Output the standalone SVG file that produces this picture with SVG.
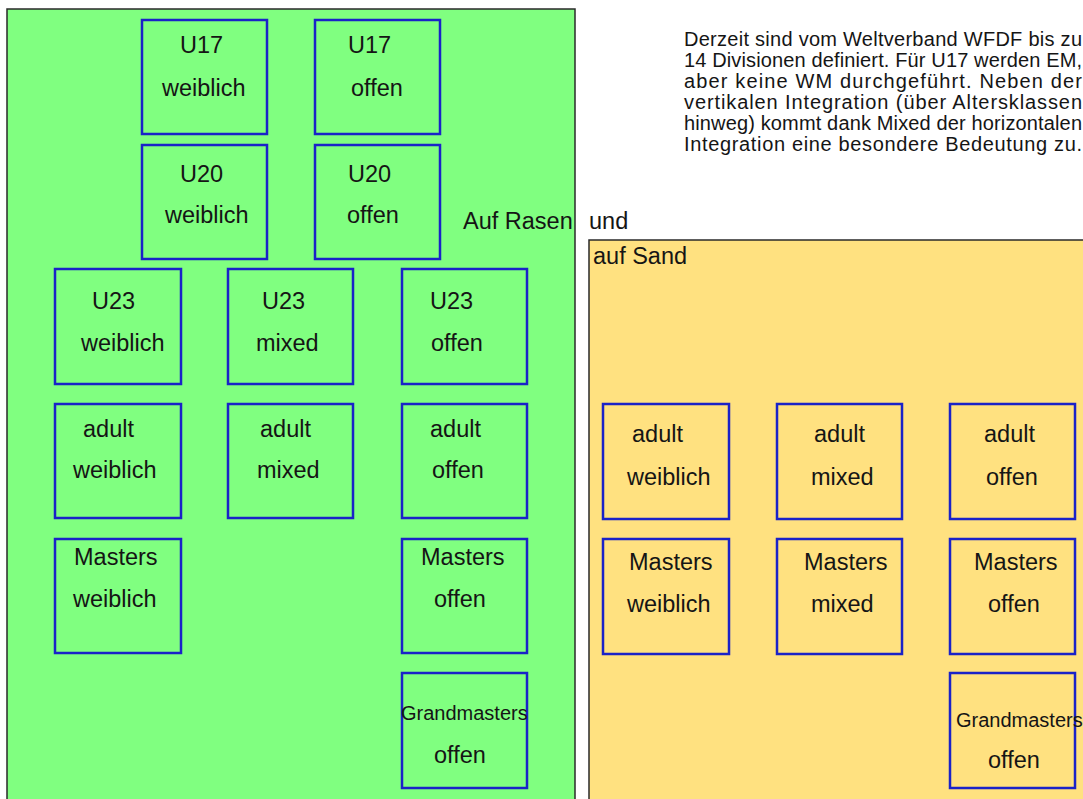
<svg xmlns="http://www.w3.org/2000/svg" width="1083" height="799" viewBox="0 0 1083 799">
<style>
.area{stroke:#2a2a2a;stroke-width:1.5}
.box{fill:none;stroke:#1a22c8;stroke-width:2.5}
text{font-family:"Liberation Sans",Arial,sans-serif;fill:#151515}
.lbl{font-size:23.5px}
.small{font-size:20px}
.para{font-size:20px}
</style>
<rect width="1083" height="799" fill="#ffffff"/>
<g id="rasen">
<rect class="area" x="7" y="9" width="568" height="800" fill="#80ff80"/>
<text class="lbl" x="463" y="229">Auf Rasen</text>
</g>
<text class="lbl" x="589" y="229">und</text>
<g id="sand">
<rect class="area" x="589" y="240" width="510" height="570" fill="#ffe180"/>
<text class="lbl" x="593" y="264">auf Sand</text>
</g>
<g id="beschreibung">
<text class="para" x="684" y="46" textLength="398" lengthAdjust="spacing">Derzeit sind vom Weltverband WFDF bis zu</text>
<text class="para" x="684" y="67" textLength="398" lengthAdjust="spacing">14 Divisionen definiert. Für U17 werden EM,</text>
<text class="para" x="684" y="88" textLength="398" lengthAdjust="spacing">aber keine WM durchgeführt. Neben der</text>
<text class="para" x="684" y="109" textLength="398" lengthAdjust="spacing">vertikalen Integration (über Altersklassen</text>
<text class="para" x="684" y="130" textLength="398" lengthAdjust="spacing">hinweg) kommt dank Mixed der horizontalen</text>
<text class="para" x="684" y="151" textLength="398" lengthAdjust="spacing">Integration eine besondere Bedeutung zu.</text>
</g>
<g id="connectors"/>
<g id="u17-weiblich"><rect class="box" x="142" y="20" width="125" height="114"/><text class="lbl" x="180" y="53">U17</text><text class="lbl" x="162" y="96">weiblich</text></g>
<g id="u17-offen"><rect class="box" x="315" y="20" width="125" height="114"/><text class="lbl" x="348" y="53">U17</text><text class="lbl" x="351" y="96">offen</text></g>
<g id="u20-weiblich"><rect class="box" x="142" y="145" width="125" height="114"/><text class="lbl" x="180" y="182">U20</text><text class="lbl" x="165" y="223">weiblich</text></g>
<g id="u20-offen"><rect class="box" x="315" y="145" width="125" height="114"/><text class="lbl" x="348" y="182">U20</text><text class="lbl" x="347" y="223">offen</text></g>
<g id="u23-weiblich"><rect class="box" x="55" y="269" width="126" height="115"/><text class="lbl" x="92" y="309">U23</text><text class="lbl" x="81" y="351">weiblich</text></g>
<g id="u23-mixed"><rect class="box" x="228" y="269" width="125" height="115"/><text class="lbl" x="262" y="309">U23</text><text class="lbl" x="256" y="351">mixed</text></g>
<g id="u23-offen"><rect class="box" x="402" y="269" width="125" height="115"/><text class="lbl" x="430" y="309">U23</text><text class="lbl" x="431" y="351">offen</text></g>
<g id="rasen-adult-weiblich"><rect class="box" x="55" y="404" width="126" height="114"/><text class="lbl" x="83" y="437">adult</text><text class="lbl" x="73" y="478">weiblich</text></g>
<g id="rasen-adult-mixed"><rect class="box" x="228" y="404" width="125" height="114"/><text class="lbl" x="260" y="437">adult</text><text class="lbl" x="257" y="478">mixed</text></g>
<g id="rasen-adult-offen"><rect class="box" x="402" y="404" width="125" height="114"/><text class="lbl" x="430" y="437">adult</text><text class="lbl" x="432" y="478">offen</text></g>
<g id="rasen-masters-weiblich"><rect class="box" x="55" y="539" width="126" height="114"/><text class="lbl" x="74" y="565">Masters</text><text class="lbl" x="73" y="607">weiblich</text></g>
<g id="rasen-masters-offen"><rect class="box" x="402" y="539" width="125" height="114"/><text class="lbl" x="421" y="565">Masters</text><text class="lbl" x="434" y="607">offen</text></g>
<g id="rasen-grandmasters-offen"><rect class="box" x="402" y="673" width="125" height="115"/><text class="small" x="401" y="720">Grandmasters</text><text class="lbl" x="434" y="763">offen</text></g>
<g id="sand-adult-weiblich"><rect class="box" x="603" y="404" width="126" height="115"/><text class="lbl" x="632" y="442">adult</text><text class="lbl" x="627" y="485">weiblich</text></g>
<g id="sand-adult-mixed"><rect class="box" x="777" y="404" width="125" height="115"/><text class="lbl" x="814" y="442">adult</text><text class="lbl" x="811" y="485">mixed</text></g>
<g id="sand-adult-offen"><rect class="box" x="950" y="404" width="125" height="115"/><text class="lbl" x="984" y="442">adult</text><text class="lbl" x="986" y="485">offen</text></g>
<g id="sand-masters-weiblich"><rect class="box" x="603" y="539" width="126" height="115"/><text class="lbl" x="629" y="570">Masters</text><text class="lbl" x="627" y="612">weiblich</text></g>
<g id="sand-masters-mixed"><rect class="box" x="777" y="539" width="125" height="115"/><text class="lbl" x="804" y="570">Masters</text><text class="lbl" x="811" y="612">mixed</text></g>
<g id="sand-masters-offen"><rect class="box" x="950" y="539" width="125" height="115"/><text class="lbl" x="974" y="570">Masters</text><text class="lbl" x="988" y="612">offen</text></g>
<g id="sand-grandmasters-offen"><rect class="box" x="950" y="673" width="125" height="115"/><text class="small" x="956" y="727">Grandmasters</text><text class="lbl" x="988" y="768">offen</text></g>
</svg>
